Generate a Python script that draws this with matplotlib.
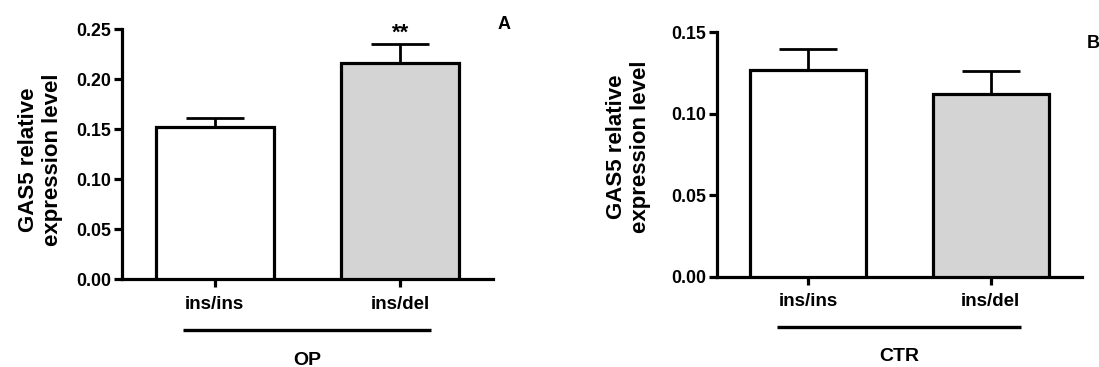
import matplotlib
matplotlib.use("Agg")
import matplotlib.pyplot as plt
import matplotlib.transforms as mtransforms

plt.rcParams['font.family'] = ['Liberation Sans', 'DejaVu Sans']
plt.rcParams['font.weight'] = 'bold'

# ---- data ----
categories = ["ins/ins", "ins/del"]
op_means = [0.152, 0.216]
op_sem = [0.009, 0.019]
ctr_means = [0.127, 0.112]
ctr_sem = [0.013, 0.0145]
bar_colors = ["white", "#d4d4d4"]
ylabel = "GAS5 relative\nexpression level"
group_labels = ["OP", "CTR"]
panel_letters = ["A", "B"]
op_yticks = [0.00, 0.05, 0.10, 0.15, 0.20, 0.25]
ctr_yticks = [0.00, 0.05, 0.10, 0.15]

W, H = 1099, 367
fig = plt.figure(figsize=(W / 100, H / 100), dpi=100)

def fx(px):
    return px / W

def fy(py):
    return 1 - py / H

axA = fig.add_axes([fx(121.8), fy(279.3), fx(493 - 121.8), (279.3 - 29.3) / H])
axB = fig.add_axes([fx(716.8), fy(276.7), fx(1082.2 - 716.8), (276.7 - 32.3) / H])

LW = 2.3

def draw(ax, means, sem, yticks, group, letter, letter_xy):
    x = list(range(len(categories)))
    ax.bar(x, means, width=0.635, color=bar_colors, edgecolor='black',
           linewidth=LW, zorder=3)
    ax.errorbar(x, means, yerr=[[0] * len(sem), sem], fmt='none',
                ecolor='black', elinewidth=2.0, capsize=21, capthick=2.0,
                zorder=2)
    ax.set_xlim(-0.5, 1.5)
    ax.set_ylim(0, yticks[-1])
    ax.set_yticks(yticks)
    ax.set_yticklabels([f"{t:.2f}" for t in yticks])
    ax.set_xticks(x)
    ax.set_xticklabels(categories)
    for s in ['top', 'right']:
        ax.spines[s].set_visible(False)
    for s in ['left', 'bottom']:
        ax.spines[s].set_linewidth(LW)
    ax.tick_params(axis='y', length=6, width=LW, pad=1.5, labelsize=12.8)
    ax.tick_params(axis='x', length=6, width=LW, pad=6, labelsize=13.5)
    for lbl in ax.get_xticklabels() + ax.get_yticklabels():
        lbl.set_fontweight('bold')
    ax.set_ylabel(ylabel, fontsize=16, fontweight='bold', linespacing=1.2)
    trans = mtransforms.blended_transform_factory(ax.transData, ax.transAxes)
    ax.plot([-0.17, 1.165], [-0.204, -0.204], color='black', lw=2.4,
            transform=trans, clip_on=False, solid_capstyle='butt')
    ax.text(0.5, -0.325, group, transform=trans, ha='center', va='center',
            fontsize=14, fontweight='bold')
    ax.text(letter_xy[0], letter_xy[1], letter, transform=ax.transAxes,
            ha='left', va='center', fontsize=13, fontweight='bold')

draw(axA, op_means, op_sem, op_yticks, group_labels[0], panel_letters[0],
     ((498 - 121.8) / (493 - 121.8), (279.3 - 24.5) / 250))
draw(axB, ctr_means, ctr_sem, ctr_yticks, group_labels[1], panel_letters[1],
     ((1086.7 - 716.8) / (1082.2 - 716.8), (276.7 - 43.3) / 244.4))

axA.yaxis.set_label_coords(-0.158, 0.48)
axB.yaxis.set_label_coords(-0.18, 0.53)

# significance mark
axA.text(1, op_means[1] + op_sem[1] + 0.011, "**", ha='center', va='center',
         fontsize=16, fontweight='bold')

fig.savefig("out.png", dpi=100)
